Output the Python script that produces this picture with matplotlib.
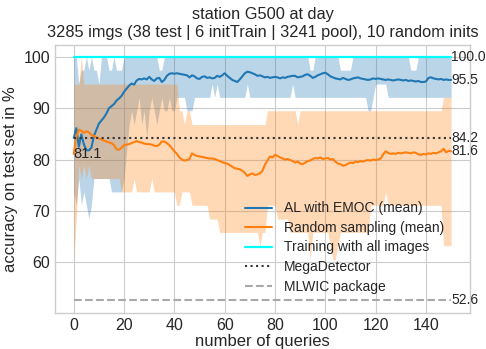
import matplotlib
matplotlib.use('Agg')
import matplotlib.pyplot as plt

plt.style.use('seaborn-v0_8-whitegrid')
plt.rcParams['font.family'] = ['Liberation Sans', 'DejaVu Sans']

# query index
queries = list(range(151))

# AL with EMOC: mean and min/max over the 10 random inits
al_mean = [84.2, 86.1, 82.5, 84.9, 83.0, 81.8, 81.8, 82.3, 84.6, 85.8,
           87.0, 87.6, 88.2, 89.0, 90.0, 90.4, 90.8, 91.5, 91.9, 92.4,
           93.2, 93.8, 94.4, 94.8, 94.6, 95.4, 95.7, 95.6, 95.8, 95.6,
           96.1, 95.6, 95.3, 95.8, 95.9, 95.1, 95.5, 96.3, 96.7, 96.8,
           96.7, 96.8, 96.7, 96.6, 96.5, 96.4, 96.0, 96.4, 96.2, 95.8,
           95.7, 96.1, 96.2, 95.9, 96.0, 95.8, 95.9, 96.3, 96.1, 96.4,
           96.8, 96.3, 95.9, 95.5, 95.3, 95.1, 95.6, 96.2, 96.8, 97.1,
           97.0, 96.8, 96.6, 96.3, 96.4, 96.2, 96.0, 96.1, 95.9, 96.0,
           96.1, 96.0, 95.8, 96.0, 95.9, 96.1, 96.2, 96.3, 96.3, 96.0,
           96.1, 96.2, 96.5, 96.6, 96.3, 95.9, 96.1, 96.4, 96.6, 96.8,
           96.9, 96.6, 96.2, 96.0, 95.8, 95.7, 95.6, 95.9, 95.7, 95.5,
           95.6, 95.8, 95.9, 96.0, 95.8, 95.7, 95.6, 95.5, 95.6, 95.8,
           95.7, 95.8, 95.7, 95.6, 95.5, 95.6, 95.5, 95.4, 95.5, 95.6,
           95.5, 95.4, 95.5, 95.3, 95.4, 95.3, 95.2, 95.3, 95.1, 95.1,
           95.2, 95.9, 96.0, 95.8, 95.7, 95.6, 95.7, 95.5, 95.6, 95.5,
           95.5]
al_hi = [100, 100, 94.7, 97.4, 97.4, 100, 97.4, 100, 97.4, 97.4,
         94.7, 100, 100, 100, 97.4, 97.4, 100, 97.4, 97.4, 97.4,
         100, 100, 100, 100, 100, 100, 100, 100, 100, 100,
         100, 100, 100, 100, 97.4, 97.4, 100, 100, 100, 100,
         100, 100, 100, 100, 100, 100, 100, 100, 100, 100,
         100, 100, 100, 100, 100, 100, 100, 100, 100, 100,
         100, 100, 100, 100, 100, 100, 100, 100, 100, 100,
         100, 100, 100, 100, 100, 100, 100, 100, 100, 100,
         100, 100, 100, 100, 100, 100, 100, 100, 100, 100,
         100, 100, 100, 100, 97.4, 97.4, 100, 100, 100, 100,
         100, 100, 100, 100, 100, 100, 97.4, 97.4, 97.4, 97.4,
         97.4, 100, 100, 100, 100, 100, 100, 100, 100, 100,
         100, 100, 100, 100, 100, 100, 100, 100, 100, 100,
         100, 100, 100, 100, 97.4, 97.4, 97.4, 100, 100, 100,
         100, 100, 100, 100, 100, 100, 100, 100, 100, 100,
         100]
al_lo = [73.7, 71.1, 76.3, 71.1, 73.7, 71.1, 68.4, 71.1, 76.3, 76.3,
         76.3, 76.3, 76.3, 76.3, 76.3, 73.7, 73.7, 73.7, 73.7, 73.7,
         76.3, 81.6, 86.8, 89.5, 86.8, 89.5, 92.1, 86.8, 89.5, 84.2,
         89.5, 92.1, 89.5, 86.8, 89.5, 92.1, 89.5, 89.5, 92.1, 89.5,
         89.5, 92.1, 92.1, 92.1, 92.1, 89.5, 89.5, 89.5, 92.1, 92.1,
         92.1, 92.1, 92.1, 92.1, 92.1, 94.7, 92.1, 94.7, 92.1, 92.1,
         92.1, 92.1, 92.1, 92.1, 92.1, 92.1, 92.1, 92.1, 92.1, 94.7,
         92.1, 92.1, 92.1, 92.1, 92.1, 92.1, 92.1, 92.1, 92.1, 92.1,
         92.1, 92.1, 92.1, 92.1, 92.1, 92.1, 92.1, 94.7, 92.1, 92.1,
         92.1, 92.1, 92.1, 92.1, 92.1, 92.1, 92.1, 92.1, 92.1, 92.1,
         92.1, 92.1, 92.1, 92.1, 92.1, 92.1, 92.1, 92.1, 92.1, 92.1,
         92.1, 92.1, 92.1, 92.1, 92.1, 92.1, 92.1, 89.5, 89.5, 92.1,
         94.7, 94.7, 94.7, 94.7, 94.7, 92.1, 92.1, 92.1, 92.1, 92.1,
         92.1, 92.1, 92.1, 92.1, 92.1, 92.1, 92.1, 92.1, 92.1, 92.1,
         92.1, 92.1, 92.1, 92.1, 92.1, 92.1, 92.1, 92.1, 92.1, 92.1,
         92.1]

# random sampling: mean and min/max over the 10 random inits
rs_mean = [81.1, 84.5, 85.8, 85.6, 85.2, 85.5, 85.3, 84.8, 84.6, 84.3,
           84.1, 83.9, 83.7, 83.5, 83.3, 83.2, 82.8, 82.0, 81.9, 82.3,
           82.8, 82.9, 83.0, 83.2, 83.4, 83.6, 83.4, 83.3, 83.1, 83.0,
           83.0, 82.9, 82.7, 82.6, 82.9, 83.5, 83.5, 83.2, 82.8, 82.2,
           81.6, 81.1, 80.4, 80.0, 79.8, 79.9, 80.1, 81.2, 80.9, 80.7,
           80.6, 80.5, 80.4, 80.3, 80.2, 80.2, 80.1, 79.9, 79.7, 79.5,
           79.3, 79.2, 78.9, 78.6, 78.3, 78.2, 78.1, 77.8, 77.4, 76.8,
           77.1, 77.3, 77.0, 77.1, 77.3, 77.8, 79.0, 79.8, 80.6, 80.4,
           80.9, 80.7, 80.4, 80.2, 80.0, 80.1, 79.9, 79.7, 79.4, 79.6,
           79.2, 79.1, 79.4, 79.7, 79.8, 80.1, 80.3, 80.2, 80.4, 80.1,
           80.2, 80.3, 80.0, 80.1, 79.6, 79.2, 79.1, 78.8, 78.9, 79.2,
           79.4, 79.3, 79.6, 79.5, 79.7, 79.6, 79.8, 79.9, 79.8, 80.0,
           79.9, 80.0, 80.2, 81.0, 81.6, 81.3, 81.1, 81.2, 81.1, 81.3,
           81.2, 81.3, 81.4, 81.3, 81.2, 81.4, 81.3, 81.0, 80.9, 81.1,
           81.0, 81.2, 81.1, 81.3, 81.2, 81.4, 81.6, 82.1, 81.4, 81.7,
           81.6]
rs_hi = [94.7, 94.7, 94.7, 100, 94.7, 94.7, 94.7, 94.7, 94.7, 94.7,
         94.7, 94.7, 94.7, 94.7, 94.7, 94.7, 94.7, 94.7, 94.7, 94.7,
         94.7, 94.7, 94.7, 94.7, 94.7, 94.7, 94.7, 94.7, 94.7, 94.7,
         94.7, 94.7, 94.7, 94.7, 94.7, 94.7, 94.7, 94.7, 94.7, 94.7,
         94.7, 94.7, 89.5, 89.5, 86.8, 89.5, 89.5, 86.8, 86.8, 86.8,
         86.8, 86.8, 86.8, 86.8, 86.8, 86.8, 86.8, 86.8, 86.8, 86.8,
         86.8, 86.8, 86.8, 86.8, 86.8, 86.8, 86.8, 86.8, 86.8, 86.8,
         86.8, 86.8, 86.8, 86.8, 86.8, 86.8, 86.8, 89.5, 89.5, 89.5,
         89.5, 89.5, 89.5, 89.5, 89.5, 89.5, 89.5, 89.5, 89.5, 86.8,
         89.5, 89.5, 89.5, 89.5, 89.5, 89.5, 89.5, 89.5, 89.5, 89.5,
         89.5, 89.5, 89.5, 89.5, 89.5, 89.5, 89.5, 89.5, 89.5, 89.5,
         89.5, 89.5, 89.5, 89.5, 89.5, 89.5, 89.5, 89.5, 89.5, 89.5,
         89.5, 89.5, 89.5, 89.5, 89.5, 89.5, 89.5, 89.5, 89.5, 89.5,
         89.5, 89.5, 89.5, 89.5, 89.5, 89.5, 89.5, 89.5, 89.5, 89.5,
         89.5, 89.5, 89.5, 89.5, 89.5, 89.5, 89.5, 92.1, 92.1, 92.1,
         92.1]
rs_lo = [60.5, 68.4, 78.9, 76.3, 78.9, 76.3, 78.9, 76.3, 76.3, 76.3,
         76.3, 76.3, 76.3, 76.3, 76.3, 76.3, 76.3, 76.3, 76.3, 73.7,
         73.7, 73.7, 73.7, 73.7, 76.3, 73.7, 73.7, 73.7, 73.7, 73.7,
         73.7, 76.3, 73.7, 73.7, 73.7, 73.7, 73.7, 73.7, 73.7, 73.7,
         73.7, 71.1, 71.1, 73.7, 73.7, 73.7, 73.7, 71.1, 71.1, 71.1,
         71.1, 71.1, 71.1, 71.1, 68.4, 68.4, 68.4, 68.4, 65.8, 65.8,
         65.8, 65.8, 65.8, 65.8, 65.8, 65.8, 65.8, 65.8, 65.8, 65.8,
         65.8, 65.8, 65.8, 65.8, 63.2, 65.8, 65.8, 71.1, 71.1, 71.1,
         71.1, 68.4, 68.4, 68.4, 68.4, 68.4, 65.8, 65.8, 65.8, 65.8,
         65.8, 65.8, 65.8, 65.8, 60.5, 65.8, 65.8, 65.8, 65.8, 65.8,
         65.8, 65.8, 63.2, 60.5, 60.5, 63.2, 65.8, 65.8, 65.8, 65.8,
         65.8, 65.8, 65.8, 65.8, 65.8, 65.8, 65.8, 65.8, 71.1, 71.1,
         71.1, 71.1, 71.1, 71.1, 73.7, 71.1, 71.1, 71.1, 71.1, 71.1,
         71.1, 71.1, 71.1, 71.1, 71.1, 71.1, 71.1, 71.1, 71.1, 71.1,
         71.1, 71.1, 71.1, 71.1, 71.1, 71.1, 71.1, 63.2, 63.2, 63.2,
         63.2]

# reference accuracies
all_images = 100.0
mega_detector = 84.2
mlwic = 52.6

fig, ax = plt.subplots(figsize=(4.86, 3.49), dpi=100)
fig.subplots_adjust(left=0.113, right=0.967, top=0.871, bottom=0.103)

ax.fill_between(queries, al_lo, al_hi, color='tab:blue', alpha=0.3, lw=0)
ax.fill_between(queries, rs_lo, rs_hi, color='tab:orange', alpha=0.3, lw=0)
ax.plot(queries, al_mean, color='tab:blue', lw=1.5, label='AL with EMOC (mean)')
ax.plot(queries, rs_mean, color='tab:orange', lw=1.5, label='Random sampling (mean)')
x0, x1 = queries[0], queries[-1]
ax.plot([x0, x1], [all_images] * 2, color='cyan', lw=1.6, label='Training with all images')
ax.plot([x0, x1], [mega_detector] * 2, color='#333333', ls=':', lw=1.5, label='MegaDetector')
ax.plot([x0, x1], [mlwic] * 2, color='darkgray', ls='--', lw=1.5, label='MLWIC package')

# value labels
for v in [all_images, al_mean[-1], mega_detector, rs_mean[-1], mlwic]:
    ax.text(x1, v, '%.1f' % v, ha='left', va='center', fontsize=10, color='#262626')
ax.text(x0, rs_mean[0], '%.1f' % rs_mean[0], ha='left', va='center', fontsize=10.5, color='#262626')

ax.set_xlim(-7.5, 157.5)
ax.set_ylim(50.1, 102.3)
ax.set_xticks(range(0, 141, 20))
ax.set_yticks(range(60, 101, 10))
ax.tick_params(labelsize=11.5)
ax.set_title('station G500 at day\n3285 imgs (38 test | 6 initTrain | 3241 pool), 10 random inits',
             fontsize=11.8)
ax.set_xlabel('number of queries', fontsize=12, labelpad=1)
ax.set_ylabel('accuracy on test set in %', fontsize=12, labelpad=4)
ax.legend(loc='lower left', bbox_to_anchor=(0.427, 0.026), fontsize=10, frameon=False,
          labelspacing=0.4)

fig.savefig('out.png', dpi=100)
